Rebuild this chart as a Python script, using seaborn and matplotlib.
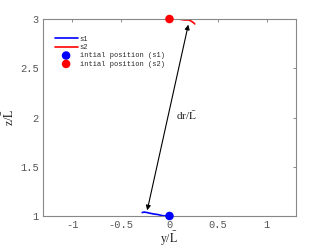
import numpy as np
import pandas as pd
import matplotlib
matplotlib.use("Agg")
import matplotlib.pyplot as plt
import seaborn as sns

# trajectories
s1_y = [0.0, -0.04, -0.08, -0.12, -0.16, -0.20, -0.23, -0.26, -0.28]
s1_z = [1.0, 1.0, 1.005, 1.015, 1.02, 1.028, 1.035, 1.04, 1.035]
s2_y = [0.0, 0.04, 0.08, 0.12, 0.16, 0.20, 0.23, 0.25, 0.26]
s2_z = [3.0, 3.0, 3.005, 2.995, 2.99, 2.99, 2.975, 2.96, 2.95]
start_s1 = (0.0, 1.0)
start_s2 = (0.0, 3.0)
arrow_from = (-0.235, 1.03)
arrow_to = (0.2, 2.97)

sns.set_style("white")
plt.rcParams['mathtext.fontset'] = 'stix'
plt.rcParams['font.monospace'] = ['Liberation Mono', 'DejaVu Sans Mono']
mono = 'monospace'
serif = ['Liberation Serif', 'DejaVu Serif']

fig = plt.figure(figsize=(3.27, 2.47), dpi=100)
ax = fig.add_axes([0.1315, 0.1255, 0.7735, 0.7975])

df1 = pd.DataFrame({'y': s1_y, 'z': s1_z})
df2 = pd.DataFrame({'y': s2_y, 'z': s2_z})
sns.lineplot(data=df1, x='y', y='z', sort=False, color='blue', lw=1.2, ax=ax, label='s1')
sns.lineplot(data=df2, x='y', y='z', sort=False, color='red', lw=1.2, ax=ax, label='s2')
sns.scatterplot(x=[start_s1[0]], y=[start_s1[1]], color='blue', s=38, edgecolor='none', ax=ax,
                label='intial position (s1)', zorder=5, clip_on=False)
sns.scatterplot(x=[start_s2[0]], y=[start_s2[1]], color='red', s=38, edgecolor='none', ax=ax,
                label='intial position (s2)', zorder=5, clip_on=False)

ax.annotate('', xy=arrow_to, xytext=arrow_from,
            arrowprops=dict(arrowstyle='<|-|>', color='black', lw=0.8, mutation_scale=7))
ax.text(0.07, 1.97, r'dr/$\bar{\mathrm{L}}$', fontsize=8, family=serif)

ax.set_xlim(-1.3, 1.3)
ax.set_ylim(1, 3)
ax.set_xticks([-1, -0.5, 0, 0.5, 1])
ax.set_yticks([1, 1.5, 2, 2.5, 3])
ax.set_xticklabels(['-1', '-0.5', '0', '0.5', '1'], family=mono)
ax.set_yticklabels(['1', '1.5', '2', '2.5', '3'], family=mono)
ax.tick_params(direction='in', length=2.5, width=0.6, color='#777777', top=True, right=True, pad=3,
               labelsize=7.5, labelcolor='#555555')
for sp in ax.spines.values():
    sp.set_color('#888888')
    sp.set_linewidth(0.8)

ax.set_xlabel(r'y/$\bar{\mathrm{L}}$', fontsize=8.5, family=serif, labelpad=0)
ax.set_ylabel(r'z/$\bar{\mathrm{L}}$', fontsize=8.5, family=serif, labelpad=2)

leg = ax.legend(loc='upper left', frameon=False, prop={'family': mono, 'size': 5},
                handlelength=3.3, handletextpad=0.3, labelspacing=0.2, borderaxespad=0,
                bbox_to_anchor=(0.035, 0.93))

fig.savefig('out.png', dpi=100)
